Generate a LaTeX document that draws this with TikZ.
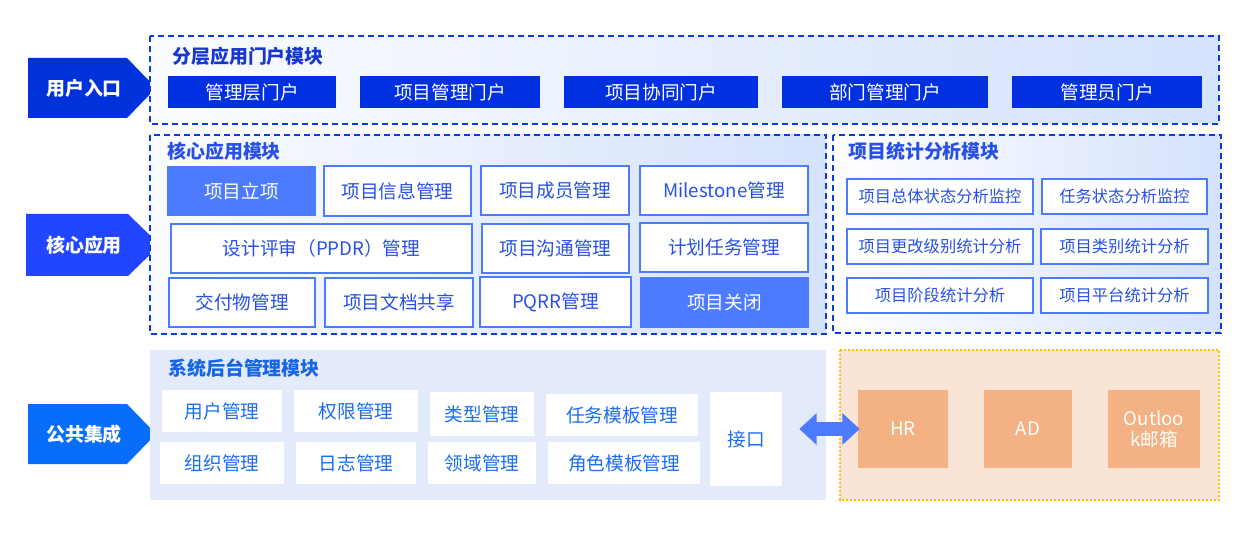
\documentclass[tikz,border=0pt]{standalone}
\usepackage{fontspec}
\setmainfont{Noto Sans CJK SC}
\usetikzlibrary{arrows.meta}
\definecolor{portalblue}{RGB}{0,48,224}
\definecolor{userarrow}{RGB}{0,50,220}
\definecolor{corearrow}{RGB}{34,70,255}
\definecolor{pubarrow}{RGB}{8,110,250}
\definecolor{midblue}{RGB}{77,123,255}
\definecolor{textblue}{RGB}{40,80,230}
\definecolor{dashblue}{RGB}{10,59,224}
\definecolor{titleblue}{RGB}{22,55,210}
\definecolor{pubtitle}{RGB}{21,101,230}
\definecolor{pubtext}{RGB}{26,110,240}
\definecolor{lightbg}{RGB}{227,235,251}
\definecolor{gradR}{RGB}{213,226,252}
\definecolor{gradL}{RGB}{250,252,255}
\definecolor{orangebg}{RGB}{250,228,214}
\definecolor{orangebox}{RGB}{243,177,132}
\definecolor{amber}{RGB}{255,192,0}
\newcommand\fz[2]{\fontsize{#1}{#2}\selectfont}
\newcommand\mybox[7]{\node[#1,inner sep=0pt,minimum width={(#5-#3)*0.75pt},minimum height={(#6-#4)*0.75pt}] (#2) at ({(#3+#5)/2},{(#4+#6)/2}) {#7};}
\tikzset{
  x=0.75pt, y=-0.75pt,
  module/.style={draw=dashblue, line width=1.5pt, dash pattern=on 4.5pt off 3pt, left color=gradL, right color=gradR},
  title/.style={anchor=west, inner sep=0pt, font=\fz{14.2}{16}\bfseries},
  arrowtext/.style={text=white, inner sep=0pt, font=\fz{14.2}{16}\bfseries},
  portal/.style={fill=portalblue, text=white, font=\fz{14}{16}},
  cbox/.style={draw=midblue, line width=1.4pt, fill=white, text=textblue, font=\fz{14}{16}},
  cfill/.style={fill=midblue, text=white, font=\fz{14}{16}},
  sbox/.style={draw=midblue, line width=1.4pt, fill=white, text=textblue, font=\fz{12.2}{14}},
  pbox/.style={fill=white, text=pubtext, font=\fz{14}{16}},
  obox/.style={fill=orangebox, text=white, font=\fz{14}{16}, align=center},
  darrow/.style={draw=midblue, line width=11pt, {Triangle[width=23pt,length=13pt]}-{Triangle[width=23pt,length=13pt]}}
}
\begin{document}
\begin{tikzpicture}
\useasboundingbox (0,0) rectangle (1250,538);
% ---------- top: portals ----------
\fill[userarrow] (28,58) -- (127,58) -- (156,88) -- (127,118) -- (28,118) -- cycle;
\node[arrowtext] (a1) at (84,88) {用户入口};
\path[module] (150,36) rectangle (1219,124);
\node[title, text=titleblue] (t1) at (172,56) {分层应用门户模块};
\mybox{portal}{p1}{168}{76}{336}{108}{管理层门户}
\mybox{portal}{p2}{360}{76}{540}{108}{项目管理门户}
\mybox{portal}{p3}{564}{76}{758}{108}{项目协同门户}
\mybox{portal}{p4}{782}{76}{988}{108}{部门管理门户}
\mybox{portal}{p5}{1012}{76}{1202}{108}{管理员门户}
% ---------- middle: core ----------
\fill[corearrow] (26,214) -- (128,214) -- (160,245) -- (128,276) -- (26,276) -- cycle;
\node[arrowtext] (a2) at (84,245) {核心应用};
\path[module] (150,135) rectangle (826,334);
\node[title, text=textblue] (t2) at (167,151) {核心应用模块};
\mybox{cfill}{c1}{167}{166}{316}{216}{项目立项}
\mybox{cbox}{c2}{324}{166}{471}{216}{项目信息管理}
\mybox{cbox}{c3}{481}{166}{629}{215}{项目成员管理}
\mybox{cbox}{c4}{640}{166}{808}{215}{Milestone管理}
\mybox{cbox}{c5}{171}{224}{472}{273}{设计评审（PPDR）管理}
\mybox{cbox}{c6}{482}{224}{629}{273}{项目沟通管理}
\mybox{cbox}{c7}{640}{223}{808}{272}{计划任务管理}
\mybox{cbox}{c8}{169}{278}{315}{327}{交付物管理}
\mybox{cbox}{c9}{325}{278}{473}{327}{项目文档共享}
\mybox{cbox}{c10}{480}{277}{631}{327}{PQRR管理}
\mybox{cfill}{c11}{640}{277}{809}{328}{项目关闭}
% ---------- stats ----------
\path[module, left color=white] (833,135) rectangle (1221,333);
\node[title, text=textblue] (t3) at (848,151) {项目统计分析模块};
\mybox{sbox}{s1}{847}{179}{1033}{214}{项目总体状态分析监控}
\mybox{sbox}{s2}{1042}{179}{1207}{214}{任务状态分析监控}
\mybox{sbox}{s3}{847}{229}{1033}{264}{项目更改级别统计分析}
\mybox{sbox}{s4}{1041}{229}{1208}{264}{项目类别统计分析}
\mybox{sbox}{s5}{847}{278}{1033}{313}{项目阶段统计分析}
\mybox{sbox}{s6}{1041}{278}{1208}{313}{项目平台统计分析}
% ---------- bottom: public ----------
\fill[pubarrow] (28,404) -- (127,404) -- (156,434) -- (127,464) -- (28,464) -- cycle;
\node[arrowtext] (a3) at (84,434) {公共集成};
\fill[lightbg] (150,350) rectangle (826,500);
\node[title, text=pubtitle] (t4) at (168,368) {系统后台管理模块};
\mybox{pbox}{b1}{162}{390}{282}{432}{用户管理}
\mybox{pbox}{b2}{294}{390}{418}{432}{权限管理}
\mybox{pbox}{b3}{160}{442}{284}{484}{组织管理}
\mybox{pbox}{b4}{296}{442}{416}{484}{日志管理}
\mybox{pbox}{b5}{430}{392}{534}{436}{类型管理}
\mybox{pbox}{b6}{546}{394}{698}{436}{任务模板管理}
\mybox{pbox}{b7}{428}{442}{536}{484}{领域管理}
\mybox{pbox}{b8}{548}{442}{700}{484}{角色模板管理}
\mybox{pbox}{jk}{710}{392}{782}{486}{接口}
% ---------- external ----------
\path[fill=orangebg, draw=amber, line width=1.2pt, dash pattern=on 1.6pt off 1.4pt] (840,350) rectangle (1219,500);
\mybox{obox}{hr}{858}{390}{948}{468}{HR}
\mybox{obox}{ad}{984}{390}{1072}{468}{AD}
\mybox{obox}{ol}{1108}{390}{1200}{468}{Outloo\\k邮箱}
\draw[darrow] ([xshift=12.75pt]hr.west -| jk.east) -- ([xshift=1.5pt]hr.west);
\end{tikzpicture}
\end{document}
